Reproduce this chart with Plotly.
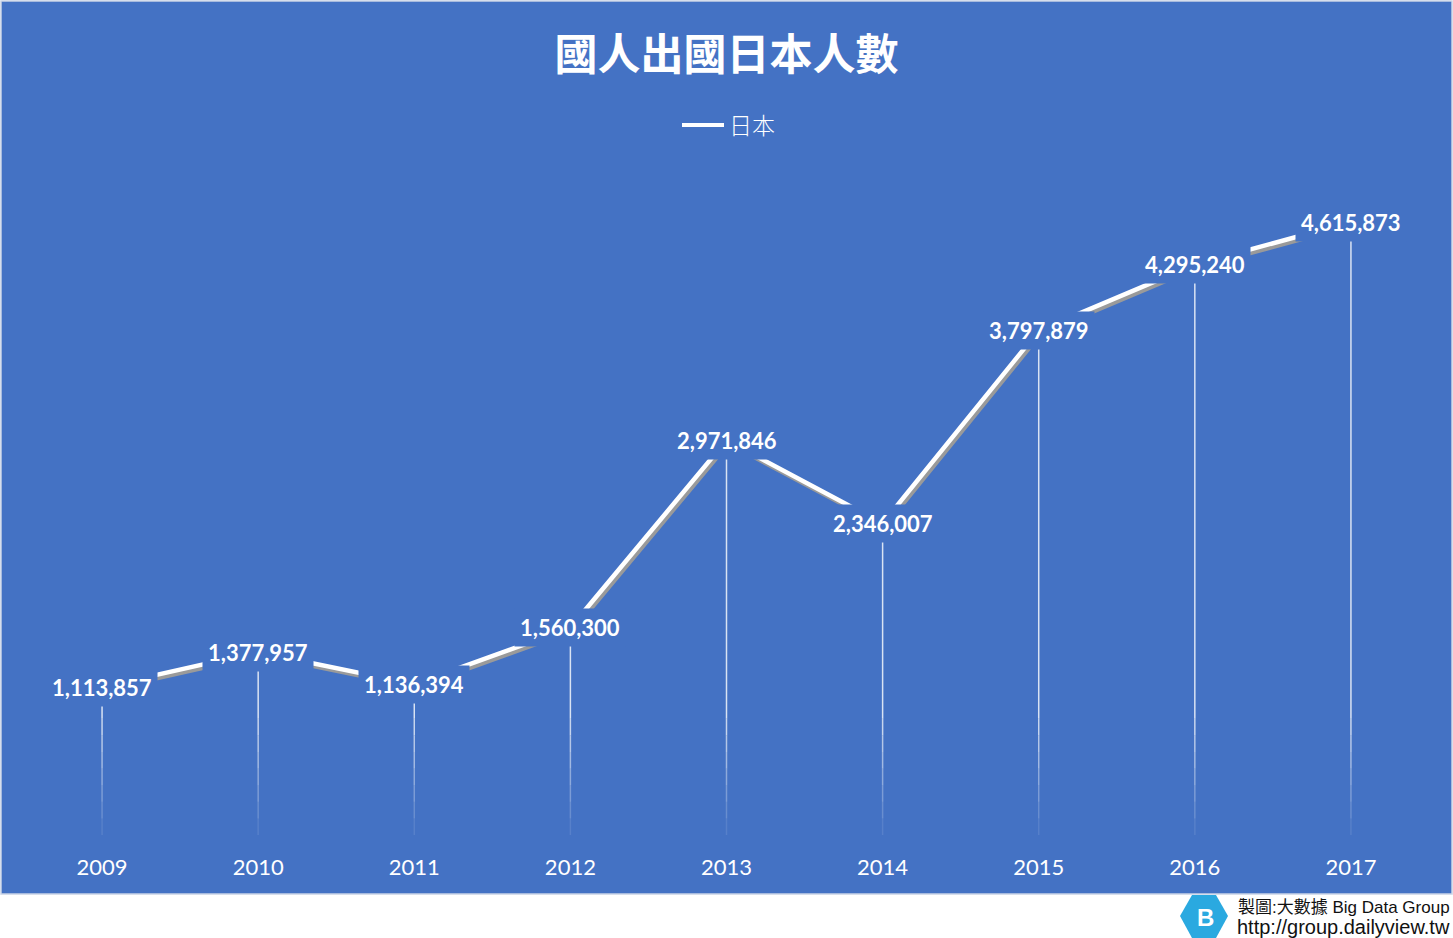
"""國人出國日本人數 line chart."""
import plotly.graph_objects as go

BLUE = "#4472C4"
SHADOW = "#9a9a9a"

years = [2009, 2010, 2011, 2012, 2013, 2014, 2015, 2016, 2017]
japan = [1113857, 1377957, 1136394, 1560300, 2971846, 2346007, 3797879, 4295240, 4615873]

W, H = 1453, 938
M_L, M_R, M_T, M_B = 24, 24, 171, 103
PLOT_W = W - M_L - M_R
PLOT_H = H - M_T - M_B
Y_MAX = 5_000_000


def px_x(x):
    return (x - M_L) / PLOT_W


def px_y(y):
    return (H - M_B - y) / PLOT_H


fig = go.Figure()

# drop lines from each point to the axis, fading out near the bottom
fade_top = 1_000_000
steps = 8
for i in range(steps + 1):
    lo = fade_top * max(i - 1, 0) / steps if i < steps else fade_top * (steps - 1) / steps
    hi = fade_top * i / steps if i < steps else max(japan)
    alpha = 0.0 + 0.8 * i / steps
    xs, ys = [], []
    for yr, v in zip(years, japan):
        if v > lo:
            xs += [yr, yr, None]
            ys += [lo, min(hi, v), None]
    fig.add_trace(go.Scatter(x=xs, y=ys, mode="lines", showlegend=False, hoverinfo="skip",
                             line={"color": f"rgba(255,255,255,{alpha:.2f})", "width": 1.5}))

# soft shadow a few pixels below-right of the line
dx = 2 / (PLOT_W / 9)
dy = 3 * Y_MAX / PLOT_H
fig.add_trace(go.Scatter(x=[y + dx for y in years], y=[v - dy for v in japan], mode="lines",
                         showlegend=False, hoverinfo="skip", line={"color": SHADOW, "width": 4.5}))
fig.add_trace(go.Scatter(x=years, y=japan, mode="lines", name="日本", showlegend=False,
                         line={"color": "white", "width": 4.5}))

for yr, v in zip(years, japan):
    fig.add_annotation(x=yr, y=v, text=f"<b>{v:,}</b>", showarrow=False, bgcolor=BLUE, borderpad=5,
                       font={"family": "Lato", "size": 22, "color": "white"})

# blue card behind everything, white footer strip below it
fig.add_shape(type="rect", xref="paper", yref="paper", layer="below",
              x0=px_x(1), x1=px_x(W - 1), y0=px_y(894), y1=px_y(1),
              fillcolor=BLUE, line={"color": "#c9d3e6", "width": 1.5})

# legend drawn by hand so the sample line matches the original length
fig.add_shape(type="line", xref="paper", yref="paper", x0=px_x(682), x1=px_x(724), y0=px_y(125), y1=px_y(125),
              line={"color": "white", "width": 4})
fig.add_annotation(xref="paper", yref="paper", x=px_x(727), y=px_y(124), xanchor="left", yanchor="middle",
                   text="日本", showarrow=False,
                   font={"family": "Noto Sans CJK TC", "size": 23, "color": "white", "weight": 300})

# logo hexagon
hx = [1180, 1192, 1216, 1228, 1216, 1192]
hy = [916, 895, 895, 916, 938, 938]
path = "M " + " L ".join(f"{px_x(a)},{px_y(b)}" for a, b in zip(hx, hy)) + " Z"
fig.add_shape(type="path", xref="paper", yref="paper", path=path, fillcolor="#2aa9e0", line={"width": 0})
fig.add_annotation(xref="paper", yref="paper", x=px_x(1205), y=px_y(917), xanchor="center", yanchor="middle",
                   text="<b>B</b>", showarrow=False,
                   font={"family": "Liberation Sans", "size": 24, "color": "white"})
fig.add_annotation(xref="paper", yref="paper", x=px_x(1452), y=px_y(907), xanchor="right", yanchor="middle",
                   text="製圖:大數據 Big Data Group", showarrow=False,
                   font={"family": "Liberation Sans, Noto Sans CJK TC", "size": 17, "color": "#111111"})
fig.add_annotation(xref="paper", yref="paper", x=px_x(1452), y=px_y(927), xanchor="right", yanchor="middle",
                   text="http://group.dailyview.tw", showarrow=False,
                   font={"family": "Liberation Sans", "size": 20, "color": "#111111"})

fig.update_layout(
    width=W, height=H,
    margin={"l": M_L, "r": M_R, "t": M_T, "b": M_B},
    paper_bgcolor="white", plot_bgcolor="rgba(0,0,0,0)",
    title={"text": "<b>國人出國日本人數</b>", "x": 0.5, "xanchor": "center", "y": 1 - 55 / H, "yanchor": "middle",
           "font": {"family": "Noto Sans CJK TC", "size": 43, "color": "white"}},
    showlegend=False,
)
fig.update_xaxes(range=[2008.5, 2017.5], tickvals=years, showgrid=False, zeroline=False, showline=False,
                 ticks="outside", ticklen=13, tickcolor="rgba(0,0,0,0)",
                 tickfont={"family": "Lato", "size": 22, "color": "white"})
fig.update_yaxes(range=[0, Y_MAX], visible=False, showgrid=False, zeroline=False)

fig.write_html("out.html", config={"displayModeBar": False},
               post_script="document.body.style.margin='0';document.body.style.overflow='hidden';")
